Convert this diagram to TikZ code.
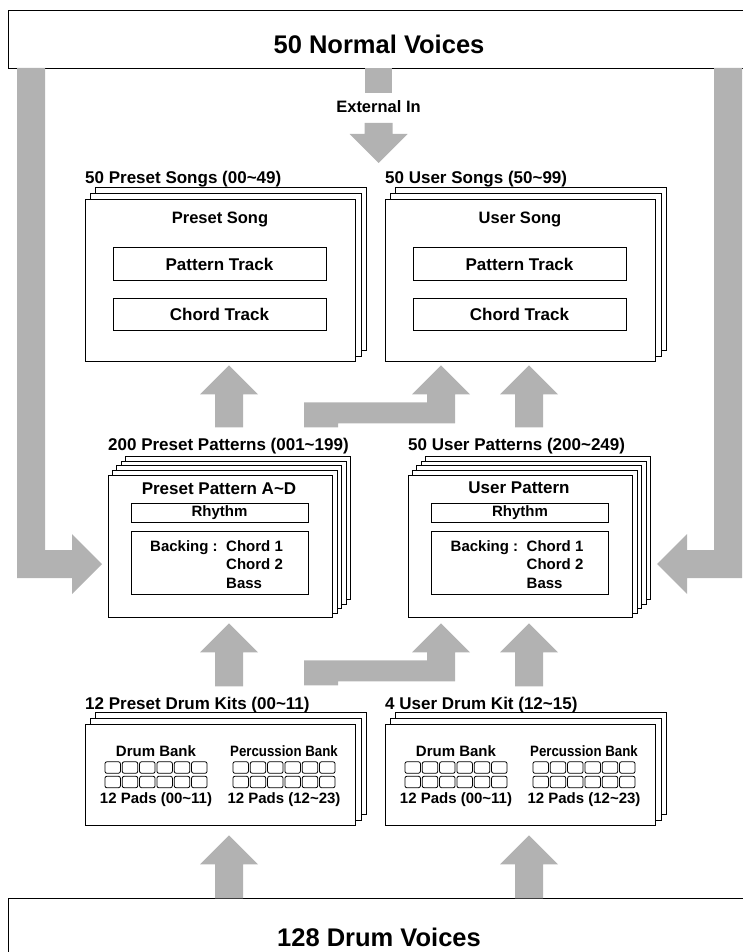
\documentclass[tikz,border=0pt]{standalone}
\usepackage{fontspec}
\setmainfont{Liberation Sans}
\usetikzlibrary{positioning, backgrounds, calc}
\definecolor{arrowgray}{gray}{0.7}
\tikzset{
song sheet/.style = { rectangle, draw = black, fill = white, line width = 0.9pt, minimum width = 270pt, minimum height = 162pt, inner sep = 0pt },
pattern sheet/.style = { rectangle, draw = black, fill = white, line width = 0.9pt, minimum width = 224pt, minimum height = 142pt, inner sep = 0pt },
kit sheet/.style = { rectangle, draw = black, fill = white, line width = 0.9pt, minimum width = 270pt, minimum height = 101pt, inner sep = 0pt },
back sheet/.style = { draw = black, fill = white, line width = 0.9pt },
voices/.style = { rectangle, draw = black, fill = white, line width = 0.9pt, minimum width = 752pt, inner sep = 0pt },
big text/.style = { inner sep = 0pt, font = \fontsize{25.5}{30}\selectfont\bfseries },
caption/.style = { anchor = base west, inner sep = 0pt, font = \fontsize{17}{20}\selectfont\bfseries },
title/.style = { inner sep = 0pt, font = \fontsize{16.5}{20}\selectfont\bfseries },
track/.style = { rectangle, draw = black, line width = 0.9pt, minimum width = 213pt, minimum height = 32.5pt, inner sep = 0pt, font = \fontsize{17}{20}\selectfont\bfseries },
part/.style = { rectangle, draw = black, line width = 0.9pt, minimum width = 177pt, inner sep = 0pt, font = \fontsize{15}{18}\selectfont\bfseries },
small/.style = { inner sep = 0pt, font = \fontsize{15}{18}\selectfont\bfseries },
pad/.style = { rectangle, draw = black, line width = 0.8pt, rounded corners = 2pt, minimum width = 15.5pt, minimum height = 11.5pt, inner sep = 0pt },
}
\tikzset{
pics/up arrow/.style = {
        code = {
        \fill[arrowgray] (0, 0) -- (29, 29) -- (14, 29) -- (14, #1) -- (-14, #1) -- (-14, 29) -- (-29, 29) -- cycle;
        }
    },
pics/bent arrow/.style = {
        code = {
        \fill[arrowgray] (0, 0) -- (29, 29) -- (14, 29) -- (14, 58) -- (-103, 58) -- (-103, 62) -- (-137, 62) -- (-137, 37) -- (-14, 37) -- (-14, 29) -- (-29, 29) -- cycle;
        }
    },
pics/side arrow/.style = {
        code = {
        \fill[arrowgray] (0, 0) -- (-30, 30) -- (-30, 14) -- (-85, 14) -- (-85, #1) -- (-57, #1) -- (-57, -14) -- (-30, -14) -- (-30, -30) -- cycle;
        }
    }
}
\begin{document}
\begin{tikzpicture}[x = 1pt, y = -1pt]
      \useasboundingbox (0, 0) rectangle (742, 952);
      % voice banks
      \node[voices, minimum height = 58pt] (normal) at (384, 39) {};
      \node[big text] (normal text) at (379, 44) {50 Normal Voices};
      \node[voices, minimum height = 82pt] (drum) at (384, 939) {};
      \node[big text] (drum text) at (379, 937.5) {128 Drum Voices};
      % songs
      \node[song sheet] (psong) at (220, 280) {};
      \node[song sheet] (usong) at (520, 280) {};
      \node[caption] (psong label) at (85, 183) {50 Preset Songs (00\textasciitilde 49)};
      \node[caption] (usong label) at (385, 183) {50 User Songs (50\textasciitilde 99)};
      \node[title] (psong title) at (220, 219) {Preset Song};
      \node[title] (usong title) at (520, 219) {User Song};
      \node[track] (psong pattern) at (219.5, 264) {Pattern Track};
      \node[track] (psong chord) at (219.5, 314.5) {Chord Track};
      \node[track] (usong pattern) at (519.5, 264) {Pattern Track};
      \node[track] (usong chord) at (519.5, 314.5) {Chord Track};
      % patterns
      \node[pattern sheet] (ppat) at (220, 546) {};
      \node[pattern sheet] (upat) at (520, 546) {};
      \node[caption] (ppat label) at (108, 450) {200 Preset Patterns (001\textasciitilde 199)};
      \node[caption] (upat label) at (408, 450) {50 User Patterns (200\textasciitilde 249)};
      \node[title, font = \fontsize{17}{20}\selectfont\bfseries] (ppat title) at (219, 489) {Preset Pattern A\textasciitilde D};
      \node[title, font = \fontsize{17}{20}\selectfont\bfseries] (upat title) at (519, 488) {User Pattern};
      \foreach \cx/\nm in {219.5/ppat, 520/upat} {
        \node[part, minimum height = 19pt] (\nm\space rhythm) at (\cx, 512.5) {Rhythm};
        \node[part, minimum height = 63pt] (\nm\space backing) at (\cx, 562.5) {};
        \node[small, anchor = base west] (\nm\space backing text) at (\cx - 69.5, 551) {Backing :};
        \node[small, anchor = base west] (\nm\space chord1) at (\cx + 6.5, 551) {Chord 1};
        \node[small, anchor = base west] (\nm\space chord2) at (\cx + 6.5, 569.5) {Chord 2};
        \node[small, anchor = base west] (\nm\space bass) at (\cx + 6.5, 588) {Bass};
      }
      % drum kits
      \node[kit sheet] (pkit) at (220, 774.5) {};
      \node[kit sheet] (ukit) at (520, 774.5) {};
      \node[caption] (pkit label) at (85, 709) {12 Preset Drum Kits (00\textasciitilde 11)};
      \node[caption] (ukit label) at (385, 709) {4 User Drum Kit (12\textasciitilde 15)};
      \foreach \cx/\nm in {220/pkit, 520/ukit} {
        \node[small] (\nm\space drum bank) at (\cx - 64, 751) {Drum Bank};
        \node[small] (\nm\space perc bank) at (\cx + 64, 751) {\scalebox{0.885}[1]{Percussion Bank}};
        \node[small] (\nm\space drum pads) at (\cx - 64, 800) {12 Pads (00\textasciitilde 11)};
        \node[small] (\nm\space perc pads) at (\cx + 64, 800) {12 Pads (12\textasciitilde 23)};
      }
      \foreach \bx in {156, 284, 456, 584}
        \foreach \k in {0, ..., 5}
          \foreach \r in {0, 1}
            \node[pad] (pad \bx-\k-\r) at (\bx - 43.33 + 17.33 * \k, 767.5 + 14.5 * \r) {};
      % stacked copies
      \begin{scope}[on background layer]
        \foreach \nm in {psong, usong, pkit, ukit} {
          \foreach \i in {2, 1}
            \draw[back sheet] ($(\nm.south west) + (5.5 * \i, -5.5 * \i)$) rectangle ($(\nm.north east) + (5.5 * \i, -5.5 * \i)$);
        }
        \foreach \nm in {ppat, upat} {
          \foreach \i in {4, 3, 2, 1}
            \draw[back sheet] ($(\nm.south west) + (4.5 * \i, -4.5 * \i)$) rectangle ($(\nm.north east) + (4.5 * \i, -4.5 * \i)$);
        }
      \end{scope}
      % block arrows
      \fill[arrowgray] ($(normal.south) + (-19.5, 0)$) rectangle ($(normal.south) + (7.5, 25)$);
      \node[title] (ext in) at (378.5, 107) {External In};
      \draw (378.5, 163) pic[rotate = 180]{up arrow = 40};
      \draw (102, 564) pic{side arrow = -496};
      \draw (657, 564) pic[xscale = -1]{side arrow = -496};
      \draw ($(psong.south) + (9, 4)$) pic{up arrow = 62};
      \draw ($(usong.south) + (9, 4)$) pic{up arrow = 62};
      \draw ($(usong.south) + (-79, 4)$) pic{bent arrow};
      \draw ($(ppat.south) + (9, 6)$) pic{up arrow = 63};
      \draw ($(upat.south) + (9, 6)$) pic{up arrow = 63};
      \draw ($(upat.south) + (-79, 6)$) pic{bent arrow};
      \draw ($(pkit.south) + (9, 10)$) pic{up arrow = 63};
      \draw ($(ukit.south) + (9, 10)$) pic{up arrow = 63};
    \end{tikzpicture}
\end{document}
